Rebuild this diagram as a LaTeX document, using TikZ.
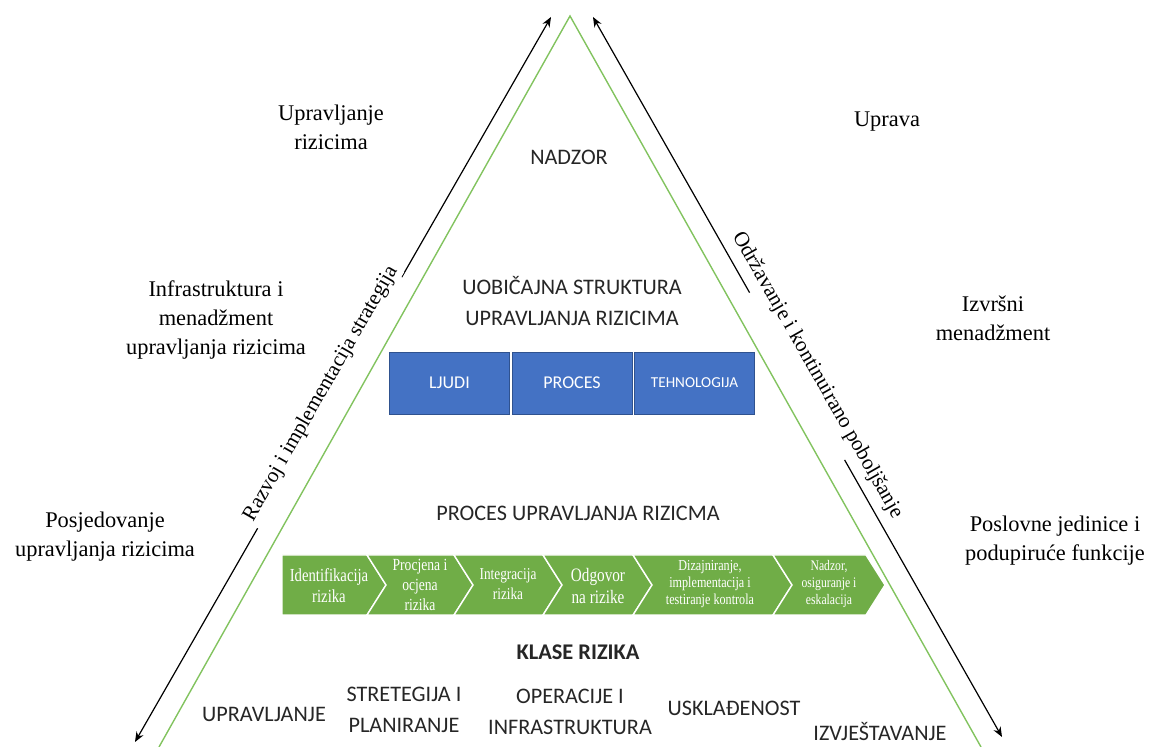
\documentclass[tikz,border=0pt]{standalone}
\usepackage{fontspec}
\setmainfont{Liberation Serif}
\setsansfont{Carlito}
\newfontfamily\narrowserif[FakeStretch=0.8]{Liberation Serif}
\usetikzlibrary{arrows.meta}
\definecolor{trigreen}{RGB}{130,195,95}
\definecolor{stepgreen}{RGB}{112,173,71}
\definecolor{boxblue}{RGB}{68,114,196}
\definecolor{boxedge}{RGB}{47,82,143}
\definecolor{labelgray}{RGB}{38,38,38}

\begin{document}
\begin{tikzpicture}[x=0.5pt, y=-0.5pt,
  outer/.style={align=center, font=\fontsize{11.2}{14.5}\selectfont},
  inner/.style={align=center, text=labelgray, font=\sffamily\fontsize{11.1}{15.5}\selectfont},
  pillar/.style={draw=boxedge, fill=boxblue, text=white, minimum width=60pt, minimum height=31pt, inner sep=0pt, font=\sffamily\fontsize{9}{10}\selectfont},
  chev/.style={fill=stepgreen, draw=white, line width=0.7pt},
  steptext/.style={align=center, text=white, inner sep=0pt},
  side/.style={{Stealth[length=5pt, width=4pt]}-{Stealth[length=5pt, width=4pt]}, line width=0.6pt},
  sidetext/.style={sloped, above, fill=white, font=\fontsize{10.6}{13}\selectfont}]
\useasboundingbox (0,0) rectangle (1152,747);

\coordinate (ltop) at (551,17);
\coordinate (lbot) at (135,742);
\coordinate (rtop) at (593,17);
\coordinate (rbot) at (1002,737);
\coordinate (apex) at (570,16);
\coordinate (bl) at (159,747);
\coordinate (br) at (981,747);

\draw[side] (lbot) -- (ltop);
\path (lbot) -- (ltop) coordinate[pos=0.295] (lg1) coordinate[pos=0.641] (lg2);
\draw[white, line width=3pt] (lg1) -- (lg2);
\path (lbot) -- (ltop) node[sidetext, pos=0.472, inner sep=1pt] (razvoj) {Razvoj i implementacija strategija};

\draw[side] (rtop) -- (rbot);
\path (rtop) -- (rbot) coordinate[pos=0.383] (rg1) coordinate[pos=0.615] (rg2);
\draw[white, line width=3pt] (rg1) -- (rg2);
\path (rtop) -- (rbot) node[sidetext, pos=0.51, inner sep=4pt, fill=none] (odrz) {Održavanje i kontinuirano poboljšanje};

\draw[trigreen, line width=0.7pt] (bl) -- (apex) -- (br);

\node[outer] (upr) at (331,127) {Upravljanje\\rizicima};
\node[outer] (uprava) at (887,122) {Uprava};
\node[outer] (infra) at (216,320) {Infrastruktura i\\menadžment\\upravljanja rizicima};
\node[outer] (izvrs) at (993,318) {Izvršni\\menadžment};
\node[outer] (posj) at (105,537) {Posjedovanje\\upravljanja rizicima};
\node[outer] (posl) at (1055,541) {Poslovne jedinice i\\podupiruće funkcije};

\node[inner] (nadzor) at (569,157) {NADZOR};
\node[inner] (struk) at (572,301) {UOBIČAJNA STRUKTURA\\UPRAVLJANJA RIZICIMA};

\node[pillar] (ljudi) at (449.5,383) {LJUDI};
\node[pillar] (proces) at (572,383) {PROCES};
\node[pillar, font=\sffamily\fontsize{7.6}{9}\selectfont] (tehno) at (694.5,383) {TEHNOLOGIJA};

\node[inner] (procup) at (578,513) {PROCES UPRAVLJANJA RIZICMA};

\filldraw[chev] (282,555) -- (367,555) -- (386,585) -- (367,615) -- (282,615) -- cycle;
\foreach \a/\b in {367/454, 454/543, 543/633, 633/773, 773/866}
  \filldraw[chev] (\a,555) -- (\b,555) -- ({\b+19},585) -- (\b,615) -- (\a,615) -- ({\a+19},585) -- cycle;

\node[steptext, font=\narrowserif\fontsize{9.2}{10.5}\selectfont] (s1) at (329,586) {Identifikacija\\rizika};
\node[steptext, font=\narrowserif\fontsize{8.5}{9.8}\selectfont] (s2) at (420,585) {Procjena i\\ocjena\\rizika};
\node[steptext, font=\narrowserif\fontsize{8.3}{10}\selectfont] (s3) at (508,584) {Integracija\\rizika};
\node[steptext, font=\narrowserif\fontsize{9.5}{11}\selectfont] (s4) at (598,586) {Odgovor\\na rizike};
\node[steptext, font=\narrowserif\fontsize{7.6}{8.4}\selectfont] (s5) at (710,584) {Dizajniranje,\\implementacija i\\testiranje kontrola};
\node[steptext, font=\narrowserif\fontsize{7.3}{8.4}\selectfont] (s6) at (829,584) {Nadzor,\\osiguranje i\\eskalacija};

\node[inner, font=\sffamily\bfseries\fontsize{11.2}{14}\selectfont] (klase) at (578,652) {KLASE RIZIKA};

\node[inner] (k1) at (264,714) {UPRAVLJANJE};
\node[inner] (k2) at (404,710) {STRETEGIJA I\\PLANIRANJE};
\node[inner] (k3) at (570,712) {OPERACIJE I\\INFRASTRUKTURA};
\node[inner] (k4) at (734,708) {USKLAĐENOST};
\node[inner] (k5) at (880,731) {IZVJEŠTAVANJE};

\end{tikzpicture}
\end{document}
